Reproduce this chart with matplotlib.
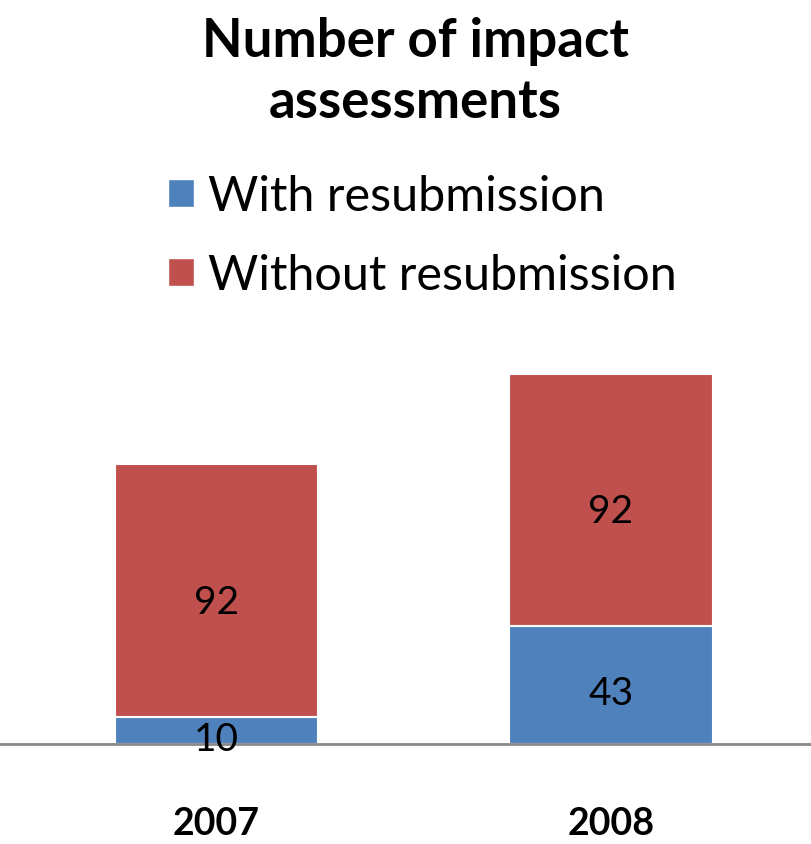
import numpy as np
import matplotlib.pyplot as plt
from matplotlib.patches import Patch

plt.rcParams['font.family'] = ['Lato', 'DejaVu Sans']

years = ['2007', '2008']
with_resub = [10, 43]
without_resub = [92, 92]
series_names = ['With resubmission', 'Without resubmission']
colors = ['#4F81BD', '#C0504D']

W, H = 811, 845
fig = plt.figure(figsize=(W / 100, H / 100), dpi=100)

# axes placed so the baseline sits at y=745 px
ax = fig.add_axes([0, 100 / H, 1, 385 / H])
x = np.arange(len(years))
width = 0.515

b1 = ax.bar(x, with_resub, width, color=colors[0], edgecolor='white', linewidth=1.5)
b2 = ax.bar(x, without_resub, width, bottom=with_resub, color=colors[1],
            edgecolor='white', linewidth=1.5)

for i in range(len(years)):
    ax.text(x[i], with_resub[i] / 2 - 3, str(with_resub[i]), ha='center', va='center',
            fontsize=28, color='black')
    ax.text(x[i], with_resub[i] + without_resub[i] / 2 - 4, str(without_resub[i]),
            ha='center', va='center', fontsize=28, color='black')

ax.set_xlim(-0.549, 1.507)
ax.set_ylim(0, 140.5)
for s in ['top', 'right', 'left']:
    ax.spines[s].set_visible(False)
ax.spines['bottom'].set_color('#888888')
ax.spines['bottom'].set_linewidth(2)
ax.set_yticks([])
ax.set_xticks(x)
ax.set_xticklabels(years, fontsize=27, fontweight='bold')
ax.tick_params(axis='x', length=0, pad=45)

fig.text(415 / W, 1 - 41 / H, 'Number of impact', ha='center', va='center',
         fontsize=38, fontweight='bold')
fig.text(415 / W, 1 - 103 / H, 'assessments', ha='center', va='center',
         fontsize=38, fontweight='bold')

handles = [Patch(facecolor=c, edgecolor='white') for c in colors]
fig.legend(handles, series_names, loc='upper left', bbox_to_anchor=(149 / W, 1 - 156 / H),
           frameon=False, fontsize=35, handlelength=0.52, handleheight=0.52,
           handletextpad=0.3, labelspacing=0.72, borderaxespad=0)

fig.savefig('out.png', dpi=100)
